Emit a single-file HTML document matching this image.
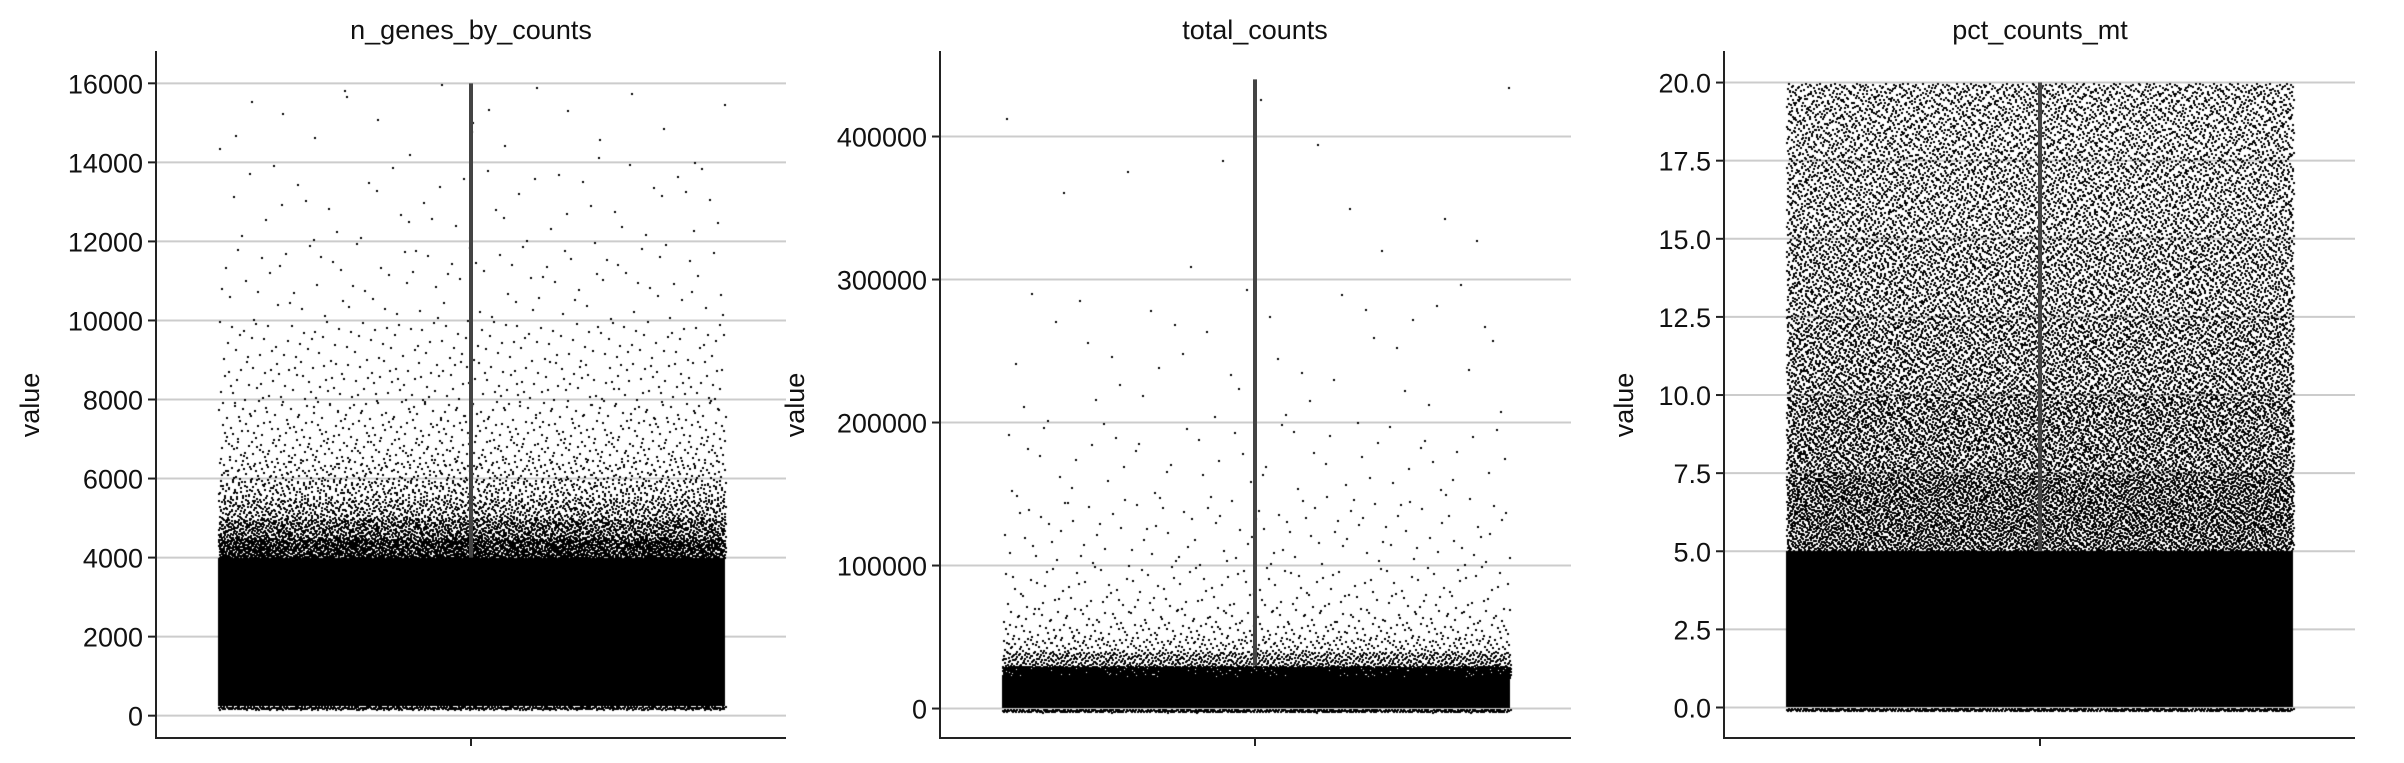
<!DOCTYPE html>
<html><head><meta charset="utf-8"><style>
html,body{margin:0;padding:0;background:#fff;}
#wrap{position:relative;width:2404px;height:763px;overflow:hidden;}
svg,canvas{position:absolute;left:0;top:0;}
text{font-family:"Liberation Sans",Arial,sans-serif;fill:#111;}
</style></head><body>
<div id="wrap">
<svg id="gr" width="2404" height="763"></svg>
<canvas id="cv" width="2404" height="763"></canvas>
<svg id="sv" width="2404" height="763"></svg>
</div>
<script>
// ---- data ----
const panelTitles = ["n_genes_by_counts","total_counts","pct_counts_mt"];
const ylims1 = [-565, 16818];
const ylims2 = [-20600, 459800];
const ylims3 = [-0.976, 21.01];
const ticks1 = [0,2000,4000,6000,8000,10000,12000,14000,16000];
const ticks2 = [0,100000,200000,300000,400000];
const ticks3 = [0,2.5,5,7.5,10,12.5,15,17.5,20];
const tickLabels1 = ["0","2000","4000","6000","8000","10000","12000","14000","16000"];
const tickLabels2 = ["0","100000","200000","300000","400000"];
const tickLabels3 = ["0.0","2.5","5.0","7.5","10.0","12.5","15.0","17.5","20.0"];
// solid (saturated) range of points
const solid1 = [250, 4000];
const solid2 = [0, 22000];
const solid3 = [0, 5];
// sparse bins: lower edges, upper edges, point counts
const binLo1 = [4000,4500,5000,5500,6000,6500,7000,7500,8000,9000,10000,12000,14000];
const binHi1 = [4500,5000,5500,6000,6500,7000,7500,8000,9000,10000,12000,14000,16000];
const binN1  = [3000,1800,1000,600,350,220,160,120,170,120,90,45,22];
const binLo2 = [22000,30000,40000,50000,60000,70000,80000,100000,150000,200000,300000,400000];
const binHi2 = [30000,40000,50000,60000,70000,80000,100000,150000,200000,300000,400000,440000];
const binN2  = [3200,900,300,150,90,60,80,110,50,40,10,3];
const binLo3 = [5,7.5,10,12.5,15,17.5];
const binHi3 = [7.5,10,12.5,15,17.5,20];
const binN3  = [7000,5500,4500,3800,3300,3000];
// violin centre line range (visible part)
const line1 = [4000, 16000];
const line2 = [30000, 440000];
const line3 = [5, 20];

// ---- layout ----
const TOP=51, BOT=738;
const panels = [
 {ax:156, ar:786, vx0:218, vx1:725, cx:471, lab:29, ylim:ylims1, ticks:ticks1, tl:tickLabels1, solid:solid1, lo:binLo1, hi:binHi1, n:binN1, line:line1},
 {ax:940, ar:1571, vx0:1002, vx1:1510, cx:1255, lab:794, ylim:ylims2, ticks:ticks2, tl:tickLabels2, solid:solid2, lo:binLo2, hi:binHi2, n:binN2, line:line2},
 {ax:1724, ar:2355, vx0:1786, vx1:2293, cx:2040, lab:1623, ylim:ylims3, ticks:ticks3, tl:tickLabels3, solid:solid3, lo:binLo3, hi:binHi3, n:binN3, line:line3}
];
function halton(i,b){let f=1,r=0;while(i>0){f/=b;r+=f*(i%b);i=Math.floor(i/b);}return r;}
const NS="http://www.w3.org/2000/svg";
const sv=document.getElementById('sv');
const gr=document.getElementById('gr');
const ctx=document.getElementById('cv').getContext('2d');
function mk(tag,attrs,parent){const e=document.createElementNS(NS,tag);for(const k in attrs)e.setAttribute(k,attrs[k]);(parent||sv).appendChild(e);return e;}

panels.forEach((p,pi)=>{
  const yS=v=>BOT-(v-p.ylim[0])/(p.ylim[1]-p.ylim[0])*(BOT-TOP);
  const g=mk('g',{});
  
  
  p.ticks.forEach((t,i)=>{
    const y=yS(t);
    const gl=mk('line',{x1:p.ax,x2:p.ar,y1:y,y2:y,stroke:'#cccccc','stroke-width':2},gr);
    
    
    const tk=mk('line',{x1:p.ax-8,x2:p.ax,y1:y,y2:y,stroke:'#222','stroke-width':2},g);
    
    
    const tx=mk('text',{x:p.ax-13,y:y+10,'text-anchor':'end','font-size':27},g);
    tx.textContent=p.tl[i];
    
    
  });
  ctx.fillStyle='#000';
  const W=p.vx1-p.vx0;
  ctx.fillRect(p.vx0,Math.round(yS(p.solid[1])),W,Math.round(yS(p.solid[0])-yS(p.solid[1])));
  let idx=1;
  for(let b=0;b<p.n.length;b++){
    for(let k=0;k<p.n[b];k++,idx++){
      const x=p.vx0+halton(idx,2)*W;
      const v=p.lo[b]+halton(idx,3)*(p.hi[b]-p.lo[b]);
      ctx.fillRect(Math.round(x),Math.round(yS(v)),2,2);
    }
  }
  for(let k=1;k<600;k++){ctx.fillRect(Math.round(p.vx0+halton(k+7000,2)*W),Math.round(yS(p.solid[0])+halton(k+7000,3)*3),2,2);}
  const cl=mk('line',{x1:p.cx,x2:p.cx,y1:yS(p.line[1]),y2:yS(p.line[0]),stroke:'#444','stroke-width':4},g);
  
  
  const la=mk('line',{x1:p.ax,x2:p.ax,y1:TOP,y2:BOT+1,stroke:'#222','stroke-width':2},g);
  
  
  const ba=mk('line',{x1:p.ax-1,x2:p.ar,y1:BOT,y2:BOT,stroke:'#222','stroke-width':2},g);
  
  
  const xt=mk('line',{x1:p.cx,x2:p.cx,y1:BOT,y2:BOT+8,stroke:'#222','stroke-width':2},g);
  
  
  const ti=mk('text',{x:p.cx,y:39,'text-anchor':'middle','font-size':27},g);
  ti.textContent=panelTitles[pi];
  
  
  const yl=mk('text',{x:0,y:0,'text-anchor':'middle','font-size':27,transform:'translate('+(p.lab+10)+',405) rotate(-90)'},g);
  yl.textContent='value';
  
  
});
</script>
</body></html>
